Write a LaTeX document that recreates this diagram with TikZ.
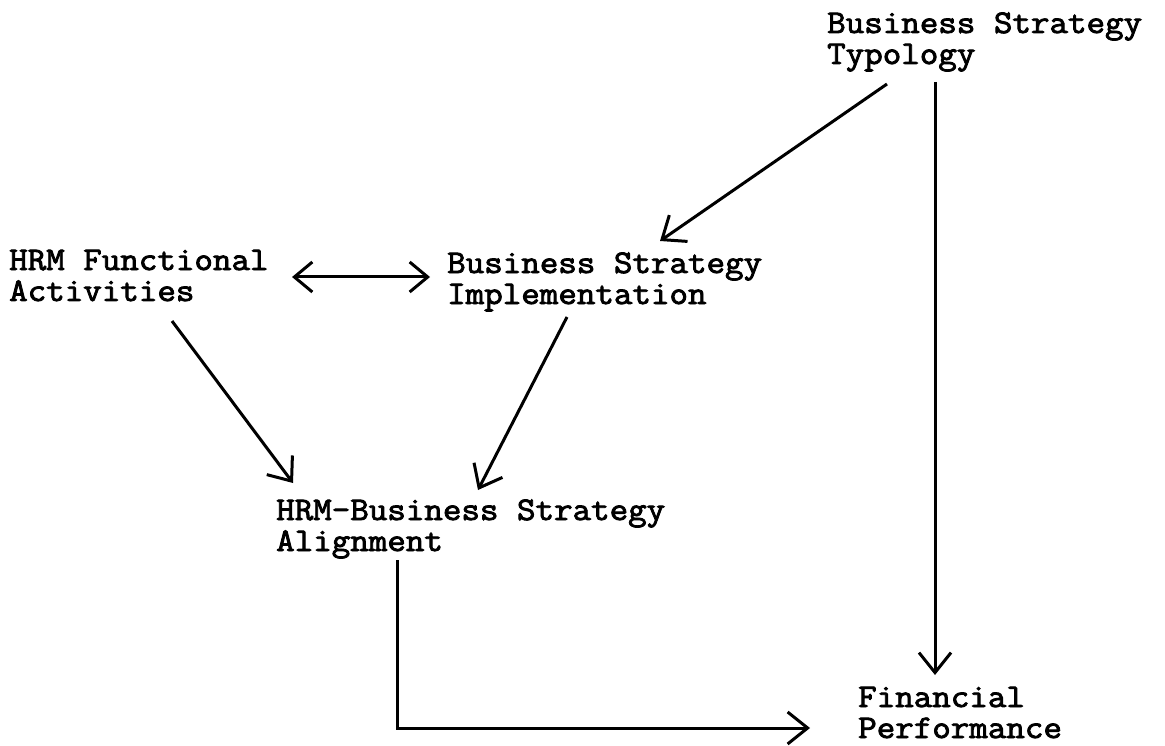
\documentclass[tikz,border=0pt]{standalone}
\usepackage{fontspec}
\newfontfamily\typewr{Latin Modern Mono}[FakeBold=2.6,FakeStretch=1.09]
\newcommand\twolines[2]{\vtop{\baselineskip=31pt\lineskiplimit=-100pt\hbox{#1}\hbox{#2}}}
\usetikzlibrary{arrows.meta}
\begin{document}
\begin{tikzpicture}[x=1pt,y=-1pt,
  lbl/.style={anchor=base west, inner sep=0pt, font=\typewr\fontsize{33}{31}\selectfont},
  conn/.style={line width=3pt, -{Straight Barb[length=20pt,width=32pt,line width=3pt]}},
  dconn/.style={line width=3pt, {Straight Barb[length=18pt,width=30pt,line width=3pt]}-{Straight Barb[length=18pt,width=30pt,line width=3pt]}}]
\useasboundingbox[fill=white] (0,0) rectangle (1165,746);
\node[lbl] (bst) at (827,33) {\twolines{Business Strategy}{Typology}};
\node[lbl] (hrm) at (9,270) {\twolines{HRM Functional}{Activities}};
\node[lbl] (bsi) at (447,273) {\twolines{Business Strategy}{Implementation}};
\node[lbl] (al) at (276,520) {\twolines{HRM-Business Strategy}{Alignment}};
\node[lbl] (fp) at (858,707) {\twolines{Financial}{Performance}};
% connector end points, each tied to its node
\coordinate (bstA) at (887,84);
\coordinate (bstB) at (935,82);
\coordinate (bsiIn) at (660,241);
\coordinate (fpTop) at (935,675);
\coordinate (hrmR) at (292,277);
\coordinate (bsiL) at (430,277);
\coordinate (hrmD) at (172,321);
\coordinate (alInL) at (293,483);
\coordinate (bsiD) at (567,317);
\coordinate (alInR) at (478,490);
\coordinate (alD) at (397,560);
\coordinate (corner) at (397,728);
\coordinate (fpL) at (810,728);
\draw[conn] (bstA) -- (bsiIn);
\draw[conn] (bstB) -- (fpTop);
\draw[dconn] (hrmR) -- (bsiL);
\draw[conn] (hrmD) -- (alInL);
\draw[conn] (bsiD) -- (alInR);
\draw[conn] (alD) -- (corner) -- (fpL);
\end{tikzpicture}
\end{document}
